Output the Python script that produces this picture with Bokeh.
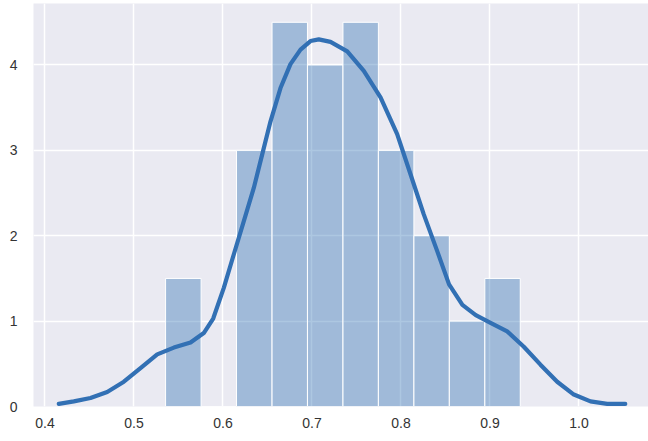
from bokeh.plotting import figure
from bokeh.models import Range1d, FixedTicker
from bokeh.embed import file_html
from bokeh.resources import INLINE

# Histogram (density) data
bin_edges = [0.5355, 0.5754, 0.6152, 0.6551, 0.6949, 0.7348, 0.7746, 0.8145, 0.8543, 0.8942, 0.9340]
bin_heights = [1.5, 0.0, 3.0, 4.5, 4.0, 4.5, 3.0, 2.0, 1.0, 1.5]

# KDE curve
kde_x = [0.4155, 0.4324, 0.4511, 0.4699, 0.4886, 0.5073, 0.5261, 0.5448, 0.5635, 0.5784,
         0.5890, 0.6009, 0.6121, 0.6234, 0.6346, 0.6440, 0.6534, 0.6646, 0.6758, 0.6871,
         0.6983, 0.7076, 0.7208, 0.7396, 0.7582, 0.7770, 0.7957, 0.8107, 0.8256, 0.8407,
         0.8540, 0.8690, 0.8840, 0.9006, 0.9193, 0.9380, 0.9567, 0.9755, 0.9942, 1.0129,
         1.0317, 1.0520]
kde_y = [0.03, 0.06, 0.10, 0.17, 0.29, 0.45, 0.61, 0.69, 0.75, 0.86,
         1.03, 1.39, 1.78, 2.17, 2.56, 2.95, 3.34, 3.73, 4.01, 4.18,
         4.28, 4.30, 4.27, 4.16, 3.93, 3.62, 3.19, 2.72, 2.25, 1.82,
         1.43, 1.19, 1.07, 0.98, 0.88, 0.70, 0.49, 0.29, 0.14, 0.06,
         0.03, 0.03]

x_ticks = [0.4, 0.5, 0.6, 0.7, 0.8, 0.9, 1.0]
y_ticks = [0, 1, 2, 3, 4]

p = figure(width=648, height=441, frame_width=615, frame_height=403,
           output_backend="svg", toolbar_location=None,
           x_range=Range1d(0.38708, 1.0781), y_range=Range1d(0, 4.72),
           min_border_left=33, min_border_right=0, min_border_top=3, min_border_bottom=0)

p.background_fill_color = "#eaeaf2"
p.border_fill_color = "white"
p.outline_line_color = None

for g in (p.xgrid, p.ygrid):
    g.grid_line_color = "white"
    g.grid_line_width = 1.5

for ax in (p.xaxis, p.yaxis):
    ax.axis_line_color = None
    ax.major_tick_line_color = None
    ax.minor_tick_line_color = None
    ax.major_tick_out = 0
    ax.major_tick_in = 0
    ax.minor_tick_out = 0
    ax.minor_tick_in = 0
    ax.major_label_text_font = "Liberation Sans"
    ax.major_label_text_font_size = "14px"
    ax.major_label_text_color = "#333333"

p.xaxis.ticker = FixedTicker(ticks=x_ticks)
p.yaxis.ticker = FixedTicker(ticks=y_ticks)
p.xaxis.major_label_overrides = {t: f"{t:.1f}" for t in x_ticks}
p.xaxis.major_label_standoff = 11
p.yaxis.major_label_standoff = 16

p.quad(left=bin_edges[:-1], right=bin_edges[1:], bottom=0, top=bin_heights,
       fill_color="#3274b5", fill_alpha=0.4, line_color="white", line_width=1)

p.line(kde_x, kde_y, line_color="#3270b4", line_width=4.2, line_join="round", line_cap="round")

open("out.html", "w").write(file_html(p, INLINE))
